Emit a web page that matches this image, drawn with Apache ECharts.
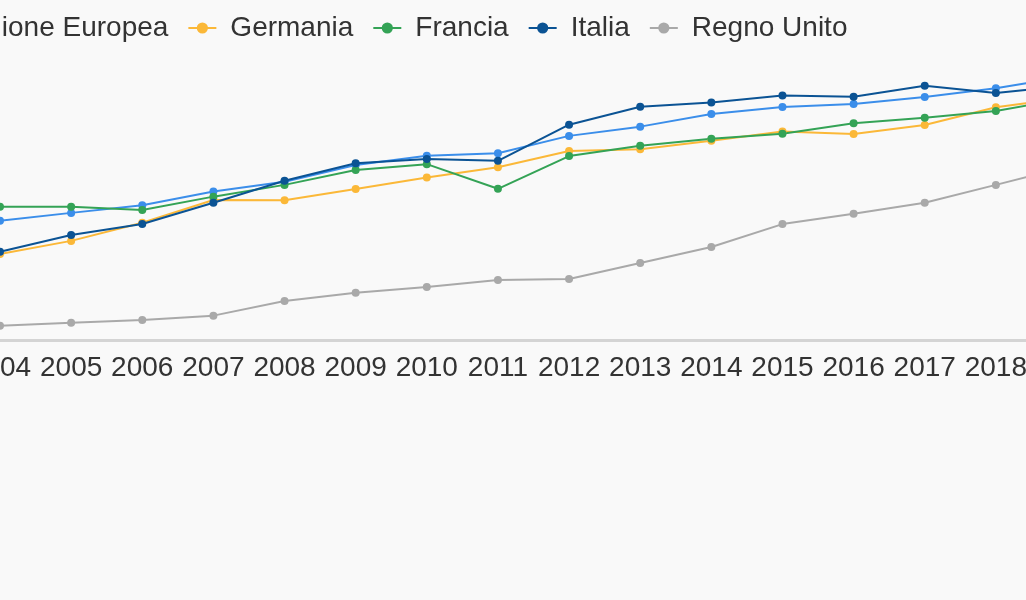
<!DOCTYPE html>
<html>
<head>
<meta charset="utf-8">
<script src="https://cdn.jsdelivr.net/npm/echarts@6/dist/echarts.min.js"></script>
<style>
html, body { margin: 0; padding: 0; background: #f9f9f9; overflow: hidden; width: 1026px; height: 600px; }
#chart { position: absolute; left: -100px; top: 0; width: 1300px; height: 600px; }
</style>
</head>
<body>
<div id="chart"></div>
<script>
const years = ['2004','2005','2006','2007','2008','2009','2010','2011','2012','2013','2014','2015','2016','2017','2018','2019'];
const seriesNames = ['Unione Europea', 'Germania', 'Francia', 'Italia', 'Regno Unito'];
const unioneEuropea = [42.6, 45.4, 48.1, 53.0, 56.5, 62.5, 65.8, 66.7, 72.9, 76.2, 80.7, 83.2, 84.3, 86.8, 89.9, 94.1];
const germania      = [30.7, 35.4, 41.9, 50.0, 49.9, 53.9, 58.0, 61.7, 67.5, 68.1, 71.2, 74.5, 73.6, 76.8, 83.1, 86.5];
const francia       = [47.6, 47.6, 46.4, 51.2, 55.4, 60.7, 62.8, 54.0, 65.7, 69.4, 71.9, 73.7, 77.4, 79.4, 81.8, 86.3];
const italia        = [31.5, 37.5, 41.4, 49.0, 56.9, 63.1, 64.6, 64.0, 76.9, 83.3, 84.8, 87.3, 86.9, 90.8, 88.2, 90.8];
const regnoUnito    = [5.1, 6.2, 7.1, 8.7, 13.9, 16.9, 18.9, 21.4, 21.8, 27.5, 33.2, 41.4, 45.1, 49.0, 55.4, 61.9];
const colors = ['#3b8eea', '#fbb838', '#34a356', '#0b5394', '#a9a9a9'];
const allData = [unioneEuropea, germania, francia, italia, regnoUnito];

const chart = echarts.init(document.getElementById('chart'), null, { renderer: 'canvas' });
const font = '"Liberation Sans", Arial, sans-serif';
chart.setOption({
  backgroundColor: '#f9f9f9',
  animation: false,
  color: colors,
  textStyle: { fontFamily: font },
  legend: {
    left: 18,
    top: 9,
    itemWidth: 28,
    itemHeight: 14,
    itemGap: 19,
    textStyle: { fontSize: 28, color: '#333', fontFamily: font, padding: [0, 0, 0, 9] },
    data: seriesNames
  },
  grid: { left: 100, right: 133, top: 60, bottom: 260 },
  xAxis: {
    type: 'category',
    data: years,
    boundaryGap: false,
    axisLine: { lineStyle: { color: '#d4d4d4', width: 3 } },
    axisTick: { show: false },
    axisLabel: { fontSize: 28, color: '#333', margin: 14, interval: 0, fontFamily: font },
    splitLine: { show: false }
  },
  yAxis: {
    type: 'value',
    min: 0,
    max: 100,
    show: false,
    splitLine: { show: false }
  },
  series: seriesNames.map((name, i) => ({
    name: name,
    type: 'line',
    data: allData[i],
    symbol: 'circle',
    symbolSize: 8,
    lineStyle: { width: 2 },
    z: i === 3 ? 5 : 2
  }))
});
</script>
</body>
</html>
